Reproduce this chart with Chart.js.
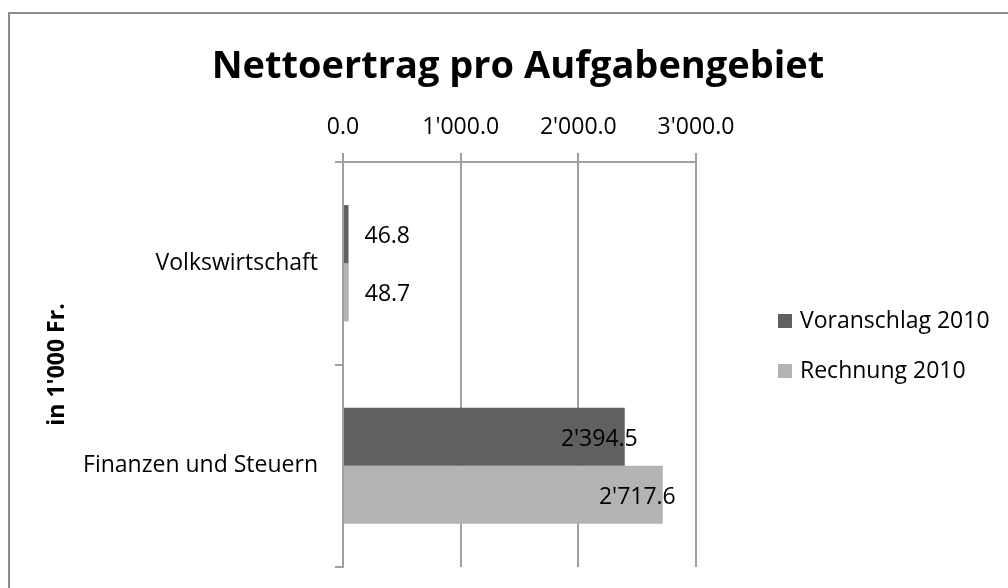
<!DOCTYPE html>
<html>
<head>
<meta charset="utf-8">
<script src="https://cdn.jsdelivr.net/npm/chart.js@4"></script>
<style>
  html, body { margin: 0; padding: 0; background: #fff; overflow: hidden; }
  #wrap { position: relative; width: 1008px; height: 588px; }
  #frame { position: absolute; left: 8px; top: 12px; width: 1100px; height: 700px;
           border: 2px solid #8c8c8c; box-sizing: border-box; pointer-events: none; }
</style>
</head>
<body>
<div id="wrap">
  <canvas id="chart" width="1008" height="588"></canvas>
  <div id="frame"></div>
</div>
<script>
const categories = ['Volkswirtschaft', 'Finanzen und Steuern'];
const seriesNames = ['Voranschlag 2010', 'Rechnung 2010'];
const voranschlag = [46.8, 2394.5];
const rechnung = [48.7, 2717.6];
const xTicks = [0, 1000, 2000, 3000];
const chartTitle = 'Nettoertrag pro Aufgabengebiet';
const colors = ['#606060', '#b3b3b3'];
const FONT = '"Open Sans", sans-serif';

function fmt(v) {
  const parts = v.toFixed(1).split('.');
  parts[0] = parts[0].replace(/\B(?=(\d{3})+(?!\d))/g, "'");
  return parts.join('.');
}

// title centred over the whole frame, not only the plot
const topTitle = {
  id: 'topTitle',
  afterDraw(chart) {
    const ctx = chart.ctx;
    ctx.save();
    ctx.font = 'bold 38px ' + FONT;
    ctx.fillStyle = '#000';
    ctx.textAlign = 'center';
    ctx.textBaseline = 'alphabetic';
    ctx.fillText(chartTitle, 518, 78);
    ctx.restore();
  }
};

// value labels next to the bar ends
const valueLabels = {
  id: 'valueLabels',
  afterDatasetsDraw(chart) {
    const ctx = chart.ctx;
    ctx.save();
    ctx.font = '23px ' + FONT;
    ctx.fillStyle = '#000';
    ctx.textBaseline = 'alphabetic';
    chart.data.datasets.forEach((ds, i) => {
      chart.getDatasetMeta(i).data.forEach((bar, j) => {
        const v = ds.data[j];
        if (v > 1000) {
          ctx.textAlign = 'right';
          ctx.fillText(fmt(v), bar.x + 13, bar.y + 9);
        } else {
          ctx.textAlign = 'left';
          ctx.fillText(fmt(v), bar.x + 16, bar.y + 9);
        }
      });
    });
    ctx.restore();
  }
};

// legend to the right of the plot
const sideLegend = {
  id: 'sideLegend',
  afterDraw(chart) {
    const ctx = chart.ctx;
    ctx.save();
    ctx.font = '23px ' + FONT;
    ctx.textBaseline = 'alphabetic';
    ctx.textAlign = 'left';
    chart.data.datasets.forEach((ds, i) => {
      const y = 321 + i * 50;
      ctx.fillStyle = ds.backgroundColor;
      ctx.fillRect(778, y - 7, 14, 14);
      ctx.fillStyle = '#000';
      ctx.fillText(ds.label, 800, y + 7);
    });
    ctx.restore();
  }
};

new Chart(document.getElementById('chart'), {
  type: 'bar',
  data: {
    labels: categories,
    datasets: [
      { label: seriesNames[0], data: voranschlag, backgroundColor: colors[0] },
      { label: seriesNames[1], data: rechnung, backgroundColor: colors[1] }
    ]
  },
  options: {
    indexAxis: 'y',
    responsive: false,
    animation: false,
    layout: { padding: { left: 44, right: 312, top: 113, bottom: 21 } },
    datasets: { bar: { categoryPercentage: 0.574, barPercentage: 1 } },
    scales: {
      x: {
        position: 'top',
        min: 0,
        max: 3000,
        afterBuildTicks: s => { s.ticks = xTicks.map(v => ({ value: v })); },
        afterFit: s => { s.height = 49; },
        ticks: { callback: v => fmt(v), font: { family: FONT, size: 23 }, color: '#000', padding: 12 },
        grid: { color: '#a0a0a0', lineWidth: 2, tickLength: 9 },
        border: { color: '#a0a0a0', width: 2 }
      },
      y: {
        afterFit: s => { s.width = 299; s.paddingTop = 0; s.paddingBottom = 0; },
        ticks: { font: { family: FONT, size: 23 }, color: '#000', padding: 17 },
        grid: { offset: true, drawOnChartArea: false, color: '#a0a0a0', lineWidth: 2, tickLength: 8 },
        border: { color: '#a0a0a0', width: 2 },
        title: { display: true, text: "in 1'000 Fr.", font: { family: FONT, size: 23, weight: 'bold' }, color: '#000', padding: 0 }
      }
    },
    plugins: {
      legend: { display: false },
      tooltip: { enabled: false },
      title: { display: false }
    }
  },
  plugins: [valueLabels, sideLegend, topTitle]
});
</script>
</body>
</html>
